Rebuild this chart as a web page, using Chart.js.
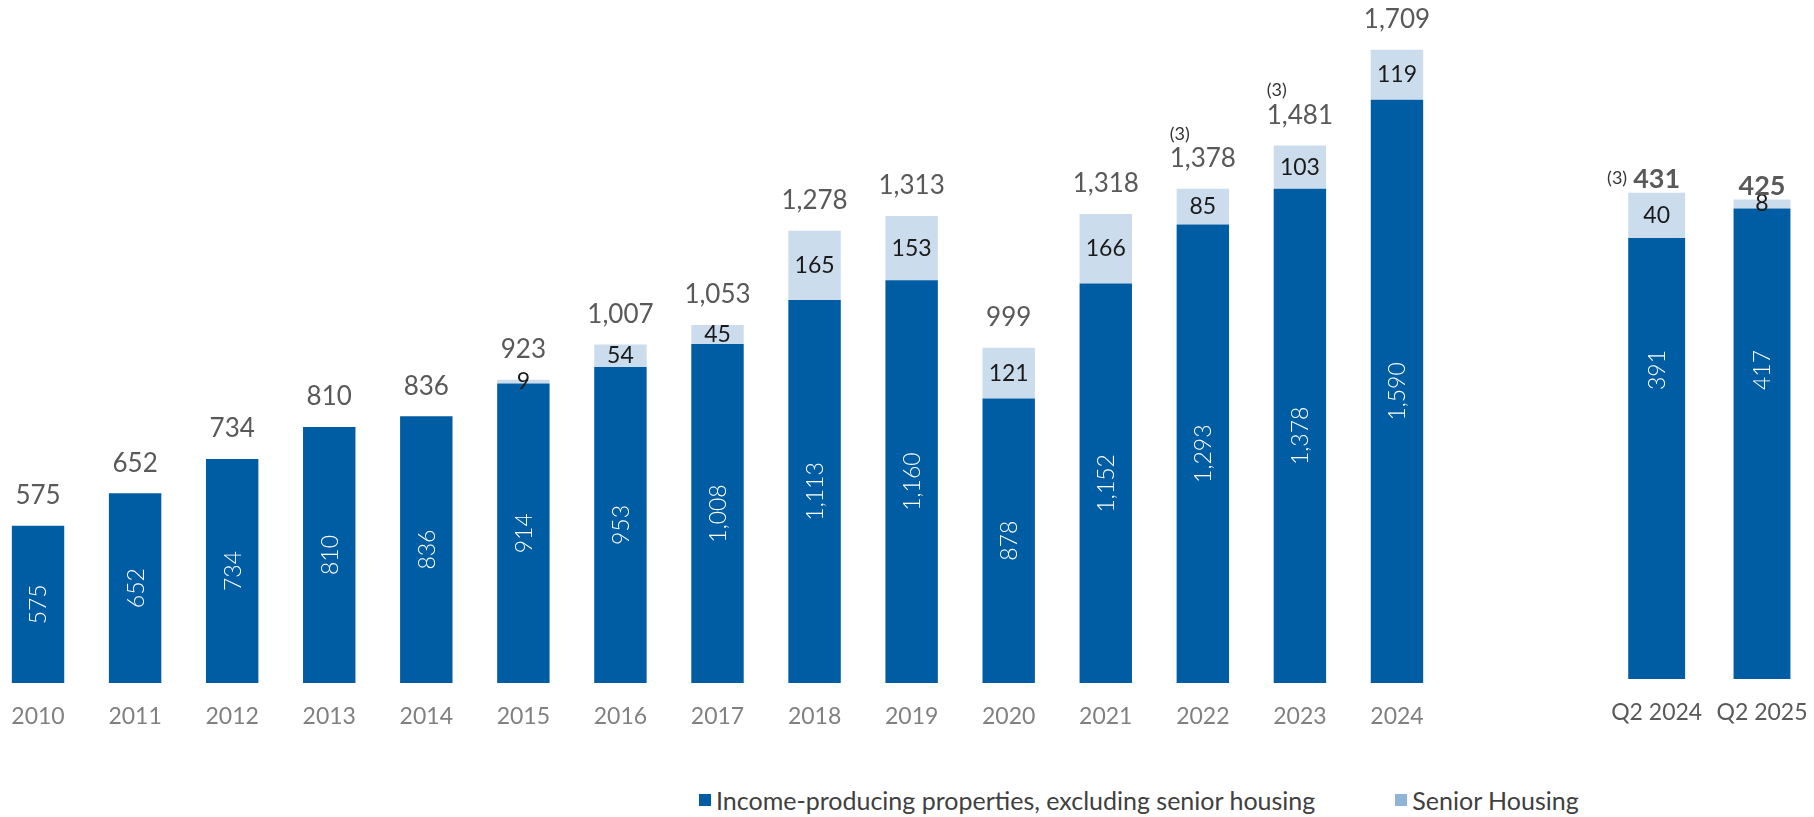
<!DOCTYPE html>
<html>
<head>
<meta charset="utf-8">
<script src="https://cdn.jsdelivr.net/npm/chart.js@4"></script>
<style>
  body { margin: 0; background: #fff; overflow: hidden; font-family: Lato, "Noto Sans", sans-serif; }
  #wrap { position: relative; width: 1814px; height: 817px; overflow: hidden; }
  canvas { position: absolute; top: 0; }
  #annual { left: -20px; }
  #quarter { left: 1560px; }
  #legend { position: absolute; top: 785px; left: 699px; display: flex; font-size: 25px; color: #404040; }
  .item { display: flex; align-items: center; }
  .sw { width: 12px; height: 12px; margin-right: 5px; }
</style>
</head>
<body>
<div id="wrap">
  <canvas id="annual" width="1480" height="764"></canvas>
  <canvas id="quarter" width="270" height="764"></canvas>
  <div id="legend"></div>
</div>
<script>
// --- data ---
const years = ['2010', '2011', '2012', '2013', '2014', '2015', '2016', '2017', '2018', '2019', '2020', '2021', '2022', '2023', '2024'];
const incomeAnnual = [575, 652, 734, 810, 836, 914, 953, 1008, 1113, 1160, 878, 1152, 1293, 1378, 1590];
const seniorAnnual = [0, 0, 0, 0, 0, 9, 54, 45, 165, 153, 121, 166, 85, 103, 119];
const totalsAnnual = [575, 652, 734, 810, 836, 923, 1007, 1053, 1278, 1313, 999, 1318, 1378, 1481, 1709];
const notesAnnual = ['', '', '', '', '', '', '', '', '', '', '', '', '(3)', '(3)', ''];

const quarters = ['Q2 2024', 'Q2 2025'];
const incomeQuarter = [391, 417];
const seniorQuarter = [40, 8];
const totalsQuarter = [431, 425];
const notesQuarter = ['(3)', ''];

const seriesNames = ['Income-producing properties, excluding senior housing', 'Senior Housing'];
const DARK = '#005da3';
const LIGHT = '#cbdcec';
const legendColors = [DARK, '#8eb5d6'];

const fmt = v => v.toLocaleString('en-US');
const FONT = 'Lato, "Noto Sans", sans-serif';

// draws the values inside / above the bars
const barLabels = {
    id: 'barLabels',
    afterDatasetsDraw(chart, args, opts) {
        const ctx = chart.ctx;
        const area = chart.chartArea;
        const m0 = chart.getDatasetMeta(0);
        const m1 = chart.getDatasetMeta(1);
        const inc = chart.data.datasets[0].data;
        const sen = chart.data.datasets[1].data;
        ctx.save();
        ctx.textBaseline = 'middle';
        ctx.textAlign = 'center';
        m0.data.forEach((bar, i) => {
            // income value, white, rotated
            const bottom = Math.min(bar.base, area.bottom);
            const cy = opts.innerY ? area.top + opts.innerY : (bar.y + bottom) / 2;
            ctx.save();
            ctx.translate(bar.x, cy);
            ctx.rotate(-Math.PI / 2);
            ctx.fillStyle = '#ffffff';
            ctx.font = '300 23px ' + FONT;
            ctx.fillText(fmt(inc[i]), 0, 1);
            ctx.restore();

            // senior housing value
            let top = bar.y;
            if (sen[i] > 0) {
                const s = m1.data[i];
                top = s.y;
                ctx.fillStyle = '#1a1a1a';
                ctx.font = '23px ' + FONT;
                ctx.fillText(fmt(sen[i]), s.x, (s.y + s.base) / 2);
            }

            // total
            const ty = top - opts.totalGap;
            ctx.fillStyle = '#595959';
            ctx.font = opts.totalFont + FONT;
            const txt = fmt(opts.totals[i]);
            ctx.fillText(txt, bar.x, ty);
            const note = opts.notes[i];
            if (note) {
                const w = ctx.measureText(txt).width;
                ctx.font = '18px ' + FONT;
                ctx.fillStyle = '#333333';
                if (opts.noteLeft) {
                    ctx.textAlign = 'right';
                    ctx.fillText(note, bar.x - w / 2 - 6, ty - 2);
                } else {
                    ctx.textAlign = 'left';
                    ctx.fillText(note, bar.x - w / 2, ty - 25);
                }
                ctx.textAlign = 'center';
            }
        });
        ctx.restore();
    }
};

function makeChart(id, labels, income, senior, yMin, yMax, padding, tickColor, labelOpts) {
    return new Chart(document.getElementById(id), {
        type: 'bar',
        data: {
            labels: labels,
            datasets: [
                { label: seriesNames[0], data: income, backgroundColor: DARK },
                { label: seriesNames[1], data: senior, backgroundColor: LIGHT }
            ]
        },
        options: {
            responsive: false,
            animation: false,
            devicePixelRatio: 1,
            layout: { padding: padding },
            datasets: { bar: { categoryPercentage: 1, barPercentage: 0.54 } },
            plugins: {
                legend: { display: false },
                tooltip: { enabled: false },
                barLabels: labelOpts
            },
            scales: {
                x: {
                    stacked: true,
                    grid: { display: false, drawTicks: false },
                    border: { display: false },
                    ticks: { padding: 20, color: tickColor, font: { family: FONT, size: 23 } }
                },
                y: { stacked: true, display: false, min: yMin, max: yMax }
            }
        },
        plugins: [barLabels]
    });
}

makeChart('annual', years, incomeAnnual, seniorAnnual, 200, 1804,
    { left: 9.5, right: 14.5, top: 10, bottom: 13.4 }, '#808080',
    { totals: totalsAnnual, notes: notesAnnual, totalGap: 30, totalFont: '26px ', noteLeft: false });

makeChart('quarter', quarters, incomeQuarter, seniorQuarter, 0, 593,
    { left: 44, right: 10, top: 10, bottom: 17.4 }, '#595959',
    { totals: totalsQuarter, notes: notesQuarter, totalGap: 13, totalFont: 'bold 27px ', noteLeft: true, innerY: 360 });

// legend
const legend = document.getElementById('legend');
seriesNames.forEach((name, i) => {
    const item = document.createElement('div');
    item.className = 'item';
    item.style.marginRight = i === 0 ? '80px' : '0';
    item.innerHTML = `<span class="sw" style="background:${legendColors[i]}"></span><span>${name}</span>`;
    legend.appendChild(item);
});
</script>
</body>
</html>
